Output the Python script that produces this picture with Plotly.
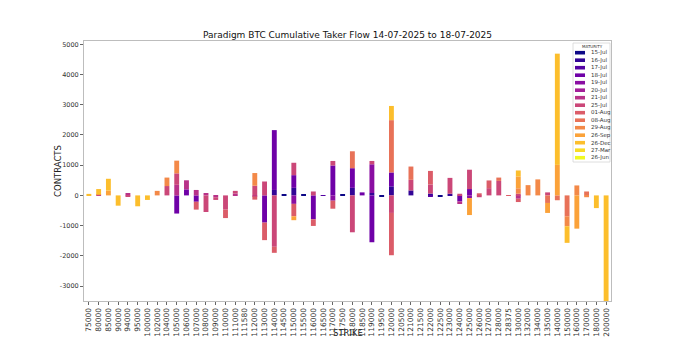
import numpy as np
import plotly.graph_objects as go
from plotly.colors import sample_colorscale

# Strike categories along the x axis
strikes = [
    "75000", "80000", "85000", "90000", "94000", "95000", "100000", "102000",
    "104000", "105000", "106000", "107000", "108000", "109000", "110000",
    "111000", "111580", "112000", "113000", "114000", "114500", "115000",
    "115500", "116000", "116500", "117000", "117500", "118000", "118500",
    "119000", "119500", "120000", "120500", "121000", "121500", "122000",
    "122500", "123000", "124000", "125000", "126000", "127000", "128000",
    "128375", "130000", "132000", "134000", "135000", "140000", "150000",
    "160000", "170000", "180000", "200000",
]

maturities = [
    "15-Jul", "16-Jul", "17-Jul", "18-Jul", "19-Jul", "20-Jul", "21-Jul",
    "25-Jul", "01-Aug", "08-Aug", "29-Aug", "26-Sep", "26-Dec", "27-Mar",
    "26-Jun",
]

# Net taker flow (contracts) per strike, one table per maturity
flow_15jul = {"114500": 30, "115500": 40, "117500": 40, "119500": -20, "122500": -50}
flow_16jul = {"114000": 180, "115000": 250, "118000": 250, "119000": 80,
              "120000": 300, "121000": 165, "122000": 60, "123000": 55}
flow_17jul = {"116500": -15, "122000": -40}
flow_18jul = {"105000": -600, "106000": 200, "107000": -210, "113000": -900,
              "114000": 1980, "115000": 420, "116000": -790, "117000": 990,
              "118000": 650, "118500": 100, "119000": -1550, "120000": 460,
              "124000": -200, "125000": 210}
flow_19jul = {"115000": -280, "117000": -175, "119000": 950, "125000": -90}
flow_20jul = {}
flow_21jul = {"94000": 80, "105000": 350, "106000": 300, "107000": 180,
              "108000": 80, "109000": -60, "111000": 60, "112000": -30,
              "124000": -85, "130000": -110}
flow_25jul = {"80000": 20, "94000": -20, "104000": 310, "105000": 380,
              "108000": -550, "109000": -90, "110000": -470, "111000": 90,
              "112000": 320, "113000": 460, "114000": -1700, "115000": 410,
              "116000": 130, "117000": 150, "118000": -1220, "119000": 110,
              "120000": -580, "121000": 350, "122000": 300, "123000": 525,
              "124000": 55, "125000": 640, "126000": -60, "127000": 240,
              "128000": 480, "130000": 55, "135000": 100}
flow_01aug = {"107000": -260, "110000": -280, "112000": -110, "113000": -580,
              "114000": -200, "115000": -410, "116000": -220, "117000": -265,
              "120000": -1400, "122000": 450, "126000": 70, "127000": 255,
              "128375": -10, "130000": -110}
flow_08aug = {"118000": 560, "120000": 1730, "121000": 440, "128000": 110,
              "135000": -250, "140000": -160, "150000": -690, "170000": 130}
flow_29aug = {"102000": 150, "104000": 280, "105000": 420, "112000": 420,
              "130000": 180, "132000": 340, "134000": 530, "150000": -330,
              "160000": 330, "170000": -60}
flow_26sep = {"85000": 160, "115000": -130, "125000": -560, "130000": 390,
              "135000": -330, "140000": 1010, "160000": -1100}
flow_26dec = {"75000": 50, "80000": 190, "85000": 390, "90000": -340,
              "95000": -360, "100000": -150, "120000": 470, "130000": 200,
              "140000": 3680, "150000": -550, "180000": -420, "200000": -3500}
flow_27mar = {}
flow_26jun = {}

flows = [flow_15jul, flow_16jul, flow_17jul, flow_18jul, flow_19jul,
         flow_20jul, flow_21jul, flow_25jul, flow_01aug, flow_08aug,
         flow_29aug, flow_26sep, flow_26dec, flow_27mar, flow_26jun]

y_ticks = [-3000, -2000, -1000, 0, 1000, 2000, 3000, 4000, 5000]

colors = sample_colorscale("Plasma", list(np.linspace(0, 1, len(maturities))))
BAR_ALPHA = 1.0

FONT = "DejaVu Sans"
W, H = 680, 340
PLOT_L, PLOT_R, PLOT_T, PLOT_B = 84, 611, 41, 301

fig = go.Figure()
for name, flow, col in zip(maturities, flows, colors):
    fig.add_trace(go.Bar(
        x=strikes,
        y=[flow.get(s, 0) for s in strikes],
        name=name,
        marker=dict(color=col, opacity=BAR_ALPHA, line=dict(width=0)),
        showlegend=False,
    ))


def px_x(x):
    return (x - PLOT_L) / (PLOT_R - PLOT_L)


def px_y(y):
    return (PLOT_B - y) / (PLOT_B - PLOT_T)


# Maturity key in the upper right corner of the axes
shapes = [dict(type="rect", xref="paper", yref="paper",
               x0=px_x(573), x1=px_x(610), y0=px_y(162), y1=px_y(43),
               fillcolor="white", line=dict(color="#d6d6d6", width=0.8),
               layer="above")]
annotations = [dict(text="MATURITY", xref="paper", yref="paper",
                    x=px_x(592), y=px_y(46.5), showarrow=False,
                    xanchor="center", yanchor="middle",
                    font=dict(family=FONT, size=4, color="#333"))]
for k, (name, col) in enumerate(zip(maturities, colors)):
    yc = 52.7 + 7.5 * k
    shapes.append(dict(type="rect", xref="paper", yref="paper",
                       x0=px_x(575), x1=px_x(585), y0=px_y(yc + 1.8),
                       y1=px_y(yc - 1.8), fillcolor=col,
                       opacity=BAR_ALPHA, line=dict(width=0), layer="above"))
    annotations.append(dict(text=name, xref="paper", yref="paper",
                            x=px_x(588.5), y=px_y(yc), showarrow=False,
                            xanchor="left", yanchor="middle",
                            font=dict(family=FONT, size=5.5, color="#333")))

# Axis titles placed as in the original layout
annotations.append(dict(text="STRIKE", xref="paper", yref="paper",
                        x=0.5, y=px_y(333), showarrow=False,
                        xanchor="center", yanchor="middle",
                        font=dict(family=FONT, size=8.5, color="#222")))
annotations.append(dict(text="CONTRACTS", xref="paper", yref="paper",
                        x=px_x(58), y=0.5, showarrow=False, textangle=-90,
                        xanchor="center", yanchor="middle",
                        font=dict(family=FONT, size=8.5, color="#222")))

fig.update_layout(
    width=W, height=H,
    margin=dict(l=PLOT_L, r=W - PLOT_R, t=PLOT_T, b=H - PLOT_B, autoexpand=False),
    paper_bgcolor="white", plot_bgcolor="white",
    barmode="relative", bargap=0.5,
    font=dict(family=FONT, color="#222"),
    title=dict(text="Paradigm BTC Cumulative Taker Flow 14-07-2025 to 18-07-2025",
               x=0.5, xref="paper", y=1 - 35 / H, yref="container",
               xanchor="center", yanchor="middle",
               font=dict(family=FONT, size=9, color="#111")),
    shapes=shapes,
    annotations=annotations,
    xaxis=dict(
        type="category", categoryorder="array", categoryarray=strikes,
        range=[-0.5, len(strikes) - 0.5],
        tickmode="array", tickvals=strikes, ticktext=strikes,
        tickangle=-90, tickfont=dict(family=FONT, size=7.5, color="#333"),
        ticks="outside", ticklen=3, tickcolor="#666", tickwidth=0.8,
        showline=True, linecolor="#bdbdbd", linewidth=1, mirror=True,
        showgrid=False, zeroline=False, automargin=False,
    ),
    yaxis=dict(
        range=[-3494, 5109],
        tickvals=y_ticks, ticktext=[str(v) for v in y_ticks],
        tickfont=dict(family=FONT, size=6.5, color="#333"),
        ticks="outside", ticklen=3, tickcolor="#666", tickwidth=0.8,
        showline=True, linecolor="#bdbdbd", linewidth=1, mirror=True,
        showgrid=False, zeroline=False, automargin=False,
    ),
)

fig.write_html("out.html")
